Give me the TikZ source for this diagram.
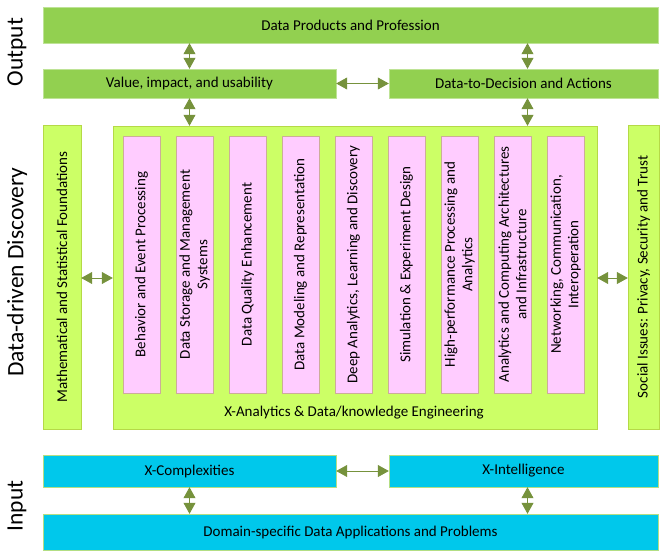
\documentclass[tikz,border=0pt]{standalone}
\usepackage{fontspec}
\setmainfont{Carlito}
\usetikzlibrary{arrows.meta}
\definecolor{outgreen}{HTML}{92D050}
\definecolor{midgreen}{HTML}{CCFF66}
\definecolor{pinkfill}{HTML}{FFCCFF}
\definecolor{inblue}{HTML}{00C8EB}
\definecolor{arrowolive}{HTML}{76923C}
\begin{document}
\begin{tikzpicture}[x=1pt,y=-1pt,
    outbox/.style={draw=outgreen!60!white, fill=outgreen, inner sep=0pt,
      minimum width=#1, font=\fontsize{15}{18}\selectfont},
    midbox/.style={draw=midgreen!70!olive, fill=midgreen, inner sep=0pt},
    pinkbox/.style={draw=pinkfill!60!olive, fill=pinkfill, rotate=90, inner sep=0pt,
      minimum width=257, minimum height=37, align=center, font=\fontsize{15}{17.5}\selectfont},
    inbox/.style={draw=outgreen!70!white, fill=inblue, inner sep=0pt,
      minimum width=#1, font=\fontsize{15}{18}\selectfont},
    sidelbl/.style={rotate=90, font=\fontsize{23.5}{28}\selectfont},
    boxlbl/.style={rotate=90, font=\fontsize{15}{18}\selectfont},
    biarrow/.style={draw=arrowolive, line width=0.8pt,
      {Triangle[length=11pt,width=12pt]}-{Triangle[length=11pt,width=12pt]}}]
  \useasboundingbox (0,0) rectangle (660,552);

  % output
  \node[outbox=615, minimum height=36] (prod) at (350.5,25) {Data Products and Profession};
  \node[outbox=293, minimum height=29] (value) at (189.5,83.5) {Value, impact, and usability};
  \node[outbox=269, minimum height=29] (decis) at (523.5,83.5) {Data-to-Decision and Actions};

  % discovery
  \node[midbox, minimum width=38, minimum height=304] (math) at (62,277) {};
  \node[boxlbl] (mathtxt) at (math.center) {Mathematical and Statistical Foundations};
  \node[midbox, minimum width=484, minimum height=303] (xana) at (355,277.5) {};
  \node[midbox, minimum width=31, minimum height=304] (social) at (643.5,277) {};
  \node[boxlbl] (socialtxt) at (social.center) {Social Issues: Privacy, Security and Trust};
  \foreach \txt [count=\i] in {{Behavior and Event Processing},
      {Data Storage and Management\\Systems}, {Data Quality Enhancement},
      {Data Modeling and Representation}, {Deep Analytics, Learning and Discovery},
      {Simulation \& Experiment Design}, {High-performance Processing and\\Analytics},
      {Analytics and Computing Architectures\\and Infrastructure},
      {Networking, Communication,\\Interoperation}}
    \node[pinkbox] (p\i) at ({141.5+53*(\i-1)},264.5) {\txt};
  \node[font=\fontsize{15}{18}\selectfont] (xanatxt) at (354,413) {X-Analytics \& Data/knowledge Engineering};

  % input
  \node[inbox=293, minimum height=32] (xcomp) at (189.5,471) {X-Complexities};
  \node[inbox=269, minimum height=32] (xint) at (523.5,471) {X-Intelligence};
  \node[inbox=615, minimum height=36] (domain) at (350.5,532) {Domain-specific Data Applications and Problems};

  % side labels
  \node[sidelbl] (outlbl) at (17,52) {Output};
  \node[sidelbl] (disclbl) at (17,272) {Data-driven Discovery};
  \node[sidelbl] (inlbl) at (17,506) {Input};

  % arrows
  \draw[biarrow] (value.north |- prod.south) -- (value.north);
  \draw[biarrow] ([xshift=4pt]decis.north |- prod.south) -- ([xshift=4pt]decis.north);
  \draw[biarrow] (value.east) -- (decis.west);
  \draw[biarrow] (value.south) -- (value.south |- xana.north);
  \draw[biarrow] ([xshift=4pt]decis.south) -- ([xshift=4pt]decis.south |- xana.north);
  \draw[biarrow] (math.east |- 0,278) -- (xana.west |- 0,278);
  \draw[biarrow] (xana.east |- 0,278) -- (social.west |- 0,278);
  \draw[biarrow] (xcomp.south) -- (xcomp.south |- domain.north);
  \draw[biarrow] ([xshift=4pt]xint.south) -- ([xshift=4pt]xint.south |- domain.north);
  \draw[biarrow] (xcomp.east) -- (xint.west);
\end{tikzpicture}
\end{document}
